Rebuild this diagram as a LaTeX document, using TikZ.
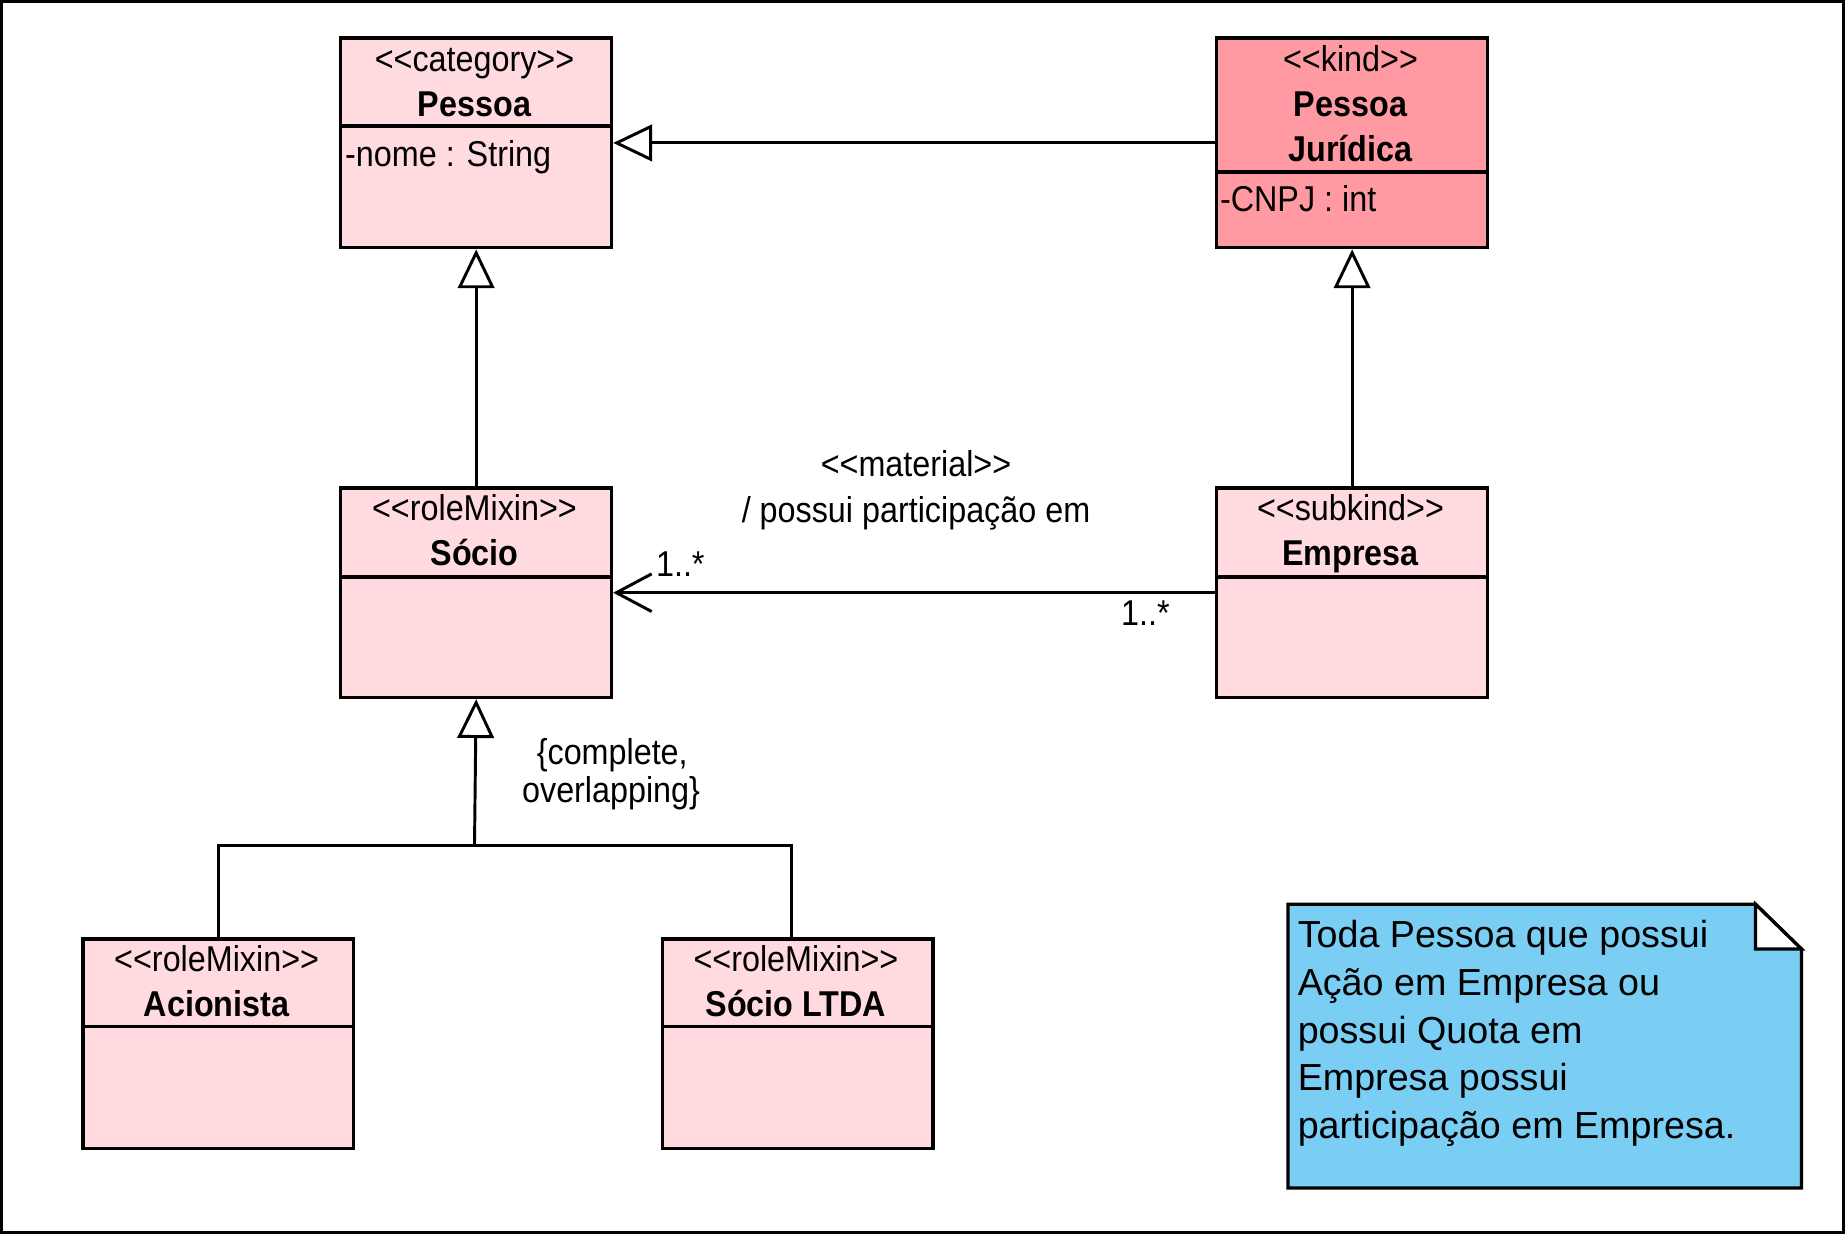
\documentclass[tikz,border=0pt]{standalone}
\usepackage{fontspec}
\setmainfont{Liberation Sans}
\newfontfamily\clsfont[FakeStretch=0.9]{Liberation Sans}
\usetikzlibrary{arrows.meta}
\definecolor{pinkL}{RGB}{255,218,222}
\definecolor{pinkD}{RGB}{255,154,162}
\definecolor{noteblue}{RGB}{122,206,244}
\begin{document}
\begin{tikzpicture}[x=1pt,y=-1pt,
  cls/.style={draw, line width=2.8pt, minimum width=230pt, minimum height=178pt,
              anchor=north west, inner sep=0pt, fill=pinkL},
  div/.style={line width=2.8pt},
  ct/.style={font=\clsfont\fontsize{30.5}{36}\selectfont, anchor=base, inner sep=0pt},
  cb/.style={font=\clsfont\fontsize{30.5}{36}\selectfont\bfseries, anchor=base, inner sep=0pt},
  nt/.style={font=\fontsize{32}{40}\selectfont, anchor=base west, inner sep=0pt},
  conn/.style={line width=2.5pt},
  gen/.style={line width=2.5pt, -{Triangle[fill=white, length=33pt, width=31pt]}},
  assoc/.style={line width=2.5pt, -{Straight Barb[length=30pt, width=32pt]}}
]
\useasboundingbox (0,0) rectangle (1567,1048);
\fill[white] (0,0) rectangle (1567,1048);
\draw[line width=2.5pt] (1.25,1.25) rectangle (1565.75,1046.75);

% classes
\node[cls] (pessoa) at (288,31) {};
\draw[div] (288,107) -- (518,107);
\node[ct] (pessoaS) at (403,61) {<<category>>};
\node[cb] (pessoaN) at (403,99) {Pessoa};
\node[ct, anchor=base west] (pessoaA) at (293,141) {-nome : String};

\node[cls, fill=pinkD] (pj) at (1032,31) {};
\draw[div] (1032,146) -- (1262,146);
\node[ct] (pjS) at (1147,61) {<<kind>>};
\node[cb] (pjN1) at (1147,99) {Pessoa};
\node[cb] (pjN2) at (1147,137) {Jurídica};
\node[ct, anchor=base west] (pjA) at (1036,180) {-CNPJ : int};

\node[cls] (socio) at (288,413) {};
\draw[div] (288,490) -- (518,490);
\node[ct] (socioS) at (403,442) {<<roleMixin>>};
\node[cb] (socioN) at (403,480) {Sócio};

\node[cls] (empresa) at (1032,413) {};
\draw[div] (1032,490) -- (1262,490);
\node[ct] (empresaS) at (1147,442) {<<subkind>>};
\node[cb] (empresaN) at (1147,480) {Empresa};

\node[cls] (acion) at (69,796) {};
\draw[div] (69,872) -- (299,872);
\node[ct] (acionS) at (184,825) {<<roleMixin>>};
\node[cb] (acionN) at (184,863) {Acionista};

\node[cls] (socioltda) at (561,796) {};
\draw[div] (561,872) -- (791,872);
\node[ct] (ltdaS) at (676,825) {<<roleMixin>>};
\node[cb] (ltdaN) at (676,863) {Sócio LTDA};

% note
\draw[line width=2.8pt, fill=noteblue] (1094,768) -- (1491,768) -- (1530,806) -- (1530,1009) -- (1094,1009) -- cycle;
\draw[line width=2.8pt, fill=white, line join=miter] (1491,768) -- (1491,806) -- (1530,806) -- cycle;
\node[nt] (note1) at (1102,805) {Toda Pessoa que possui};
\node[nt] (note2) at (1102,845.5) {Ação em Empresa ou};
\node[nt] (note3) at (1102,886) {possui Quota em};
\node[nt] (note4) at (1102,926.5) {Empresa possui};
\node[nt] (note5) at (1102,967) {participação em Empresa.};

% generalizations
\draw[gen] (pj.west) -- (pessoa.east);
\draw[gen] (socio.north) -- (pessoa.south);
\draw[gen] (empresa.north) -- (pj.south);
\coordinate (junc) at (403,718);
\draw[gen] (junc) -- (socio.south);
\draw[conn, line join=miter] (acion.north) |- (junc) -| ([xshift=-5pt]socioltda.north);
\node[ct] (gs1) at (520,649) {\{complete,};
\node[ct] (gs2) at (519,682) {overlapping\}};

% association
\draw[assoc] (empresa.west) -- (socio.east);
\node[ct] (aS) at (778,405) {<<material>>};
\node[ct] (aN) at (778,444) {/ possui participação em};
\node[ct, anchor=base west] (m1) at (557,490) {1..*};
\node[ct, anchor=base west] (m2) at (952,531) {1..*};
\end{tikzpicture}
\end{document}
